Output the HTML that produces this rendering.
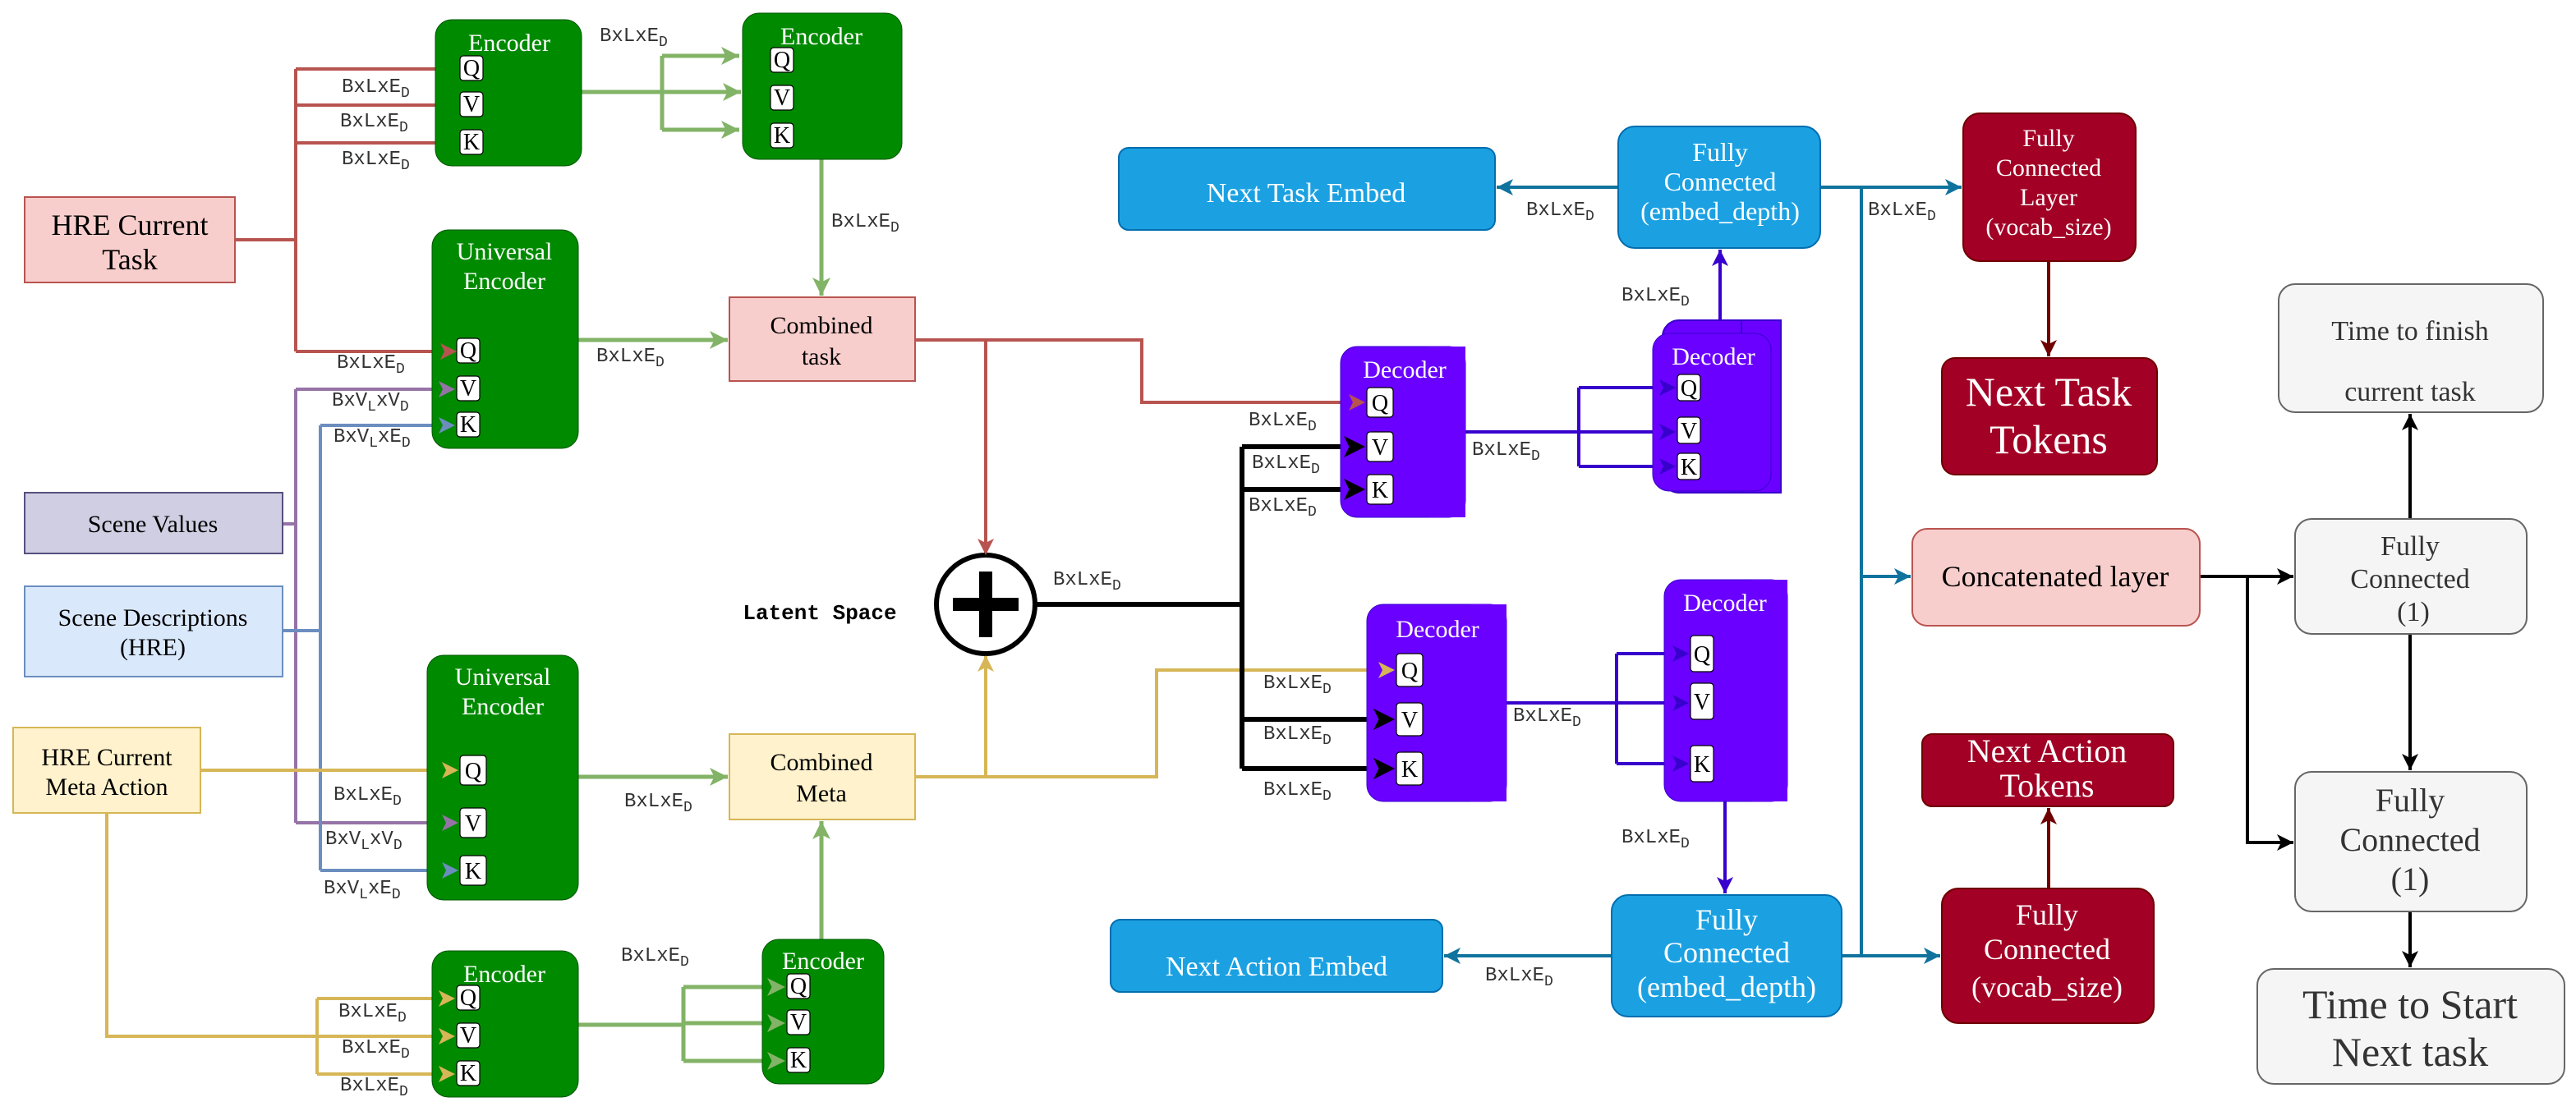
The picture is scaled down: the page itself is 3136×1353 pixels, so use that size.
<!DOCTYPE html>
<html><head><meta charset="utf-8"><style>
html,body{margin:0;padding:0;background:#fff;}
svg{display:block;}
.s text{font-family:"Liberation Serif","DejaVu Serif",serif;}
.m{font-family:"Liberation Mono","DejaVu Sans Mono",monospace;font-size:12px;fill:#333;}
.w{fill:#fff;}
.qb{fill:#fff;stroke:#000;stroke-width:0.6;}
.ql{font-family:"Liberation Serif","DejaVu Serif",serif;font-size:14px;fill:#000;text-anchor:middle;}
</style></head><body>
<svg id="sv" width="3136" height="1353" viewBox="0 0 1568 676.5" xmlns="http://www.w3.org/2000/svg">

<g fill="none" stroke-width="2" id="conn">
<path d="M143,146 H180 M180,42 V214 M180,42 H265 M180,64 H265 M180,87 H265" stroke="#b85450"/>
<path class="ar" d="M180,214 H278" stroke="#b85450"/>
<path class="ar" d="M557,207 H600 V338" stroke="#b85450"/>
<path class="ar" d="M600,207 H695 V245 H831" stroke="#b85450"/>
<g stroke="#82b366" stroke-width="2.5">
<path d="M354,56 H403 M403,34 V79"/>
<path class="ar" d="M403,34 H450"/>
<path class="ar" d="M403,56 H451"/>
<path class="ar" d="M403,79 H450"/>
<path class="ar" d="M500,97 V180"/>
<path class="ar" d="M352,207 H443"/>
<path class="ar" d="M352,473 H443"/>
<path d="M352,624 H416 M416,601 V646"/>
<path class="ar" d="M416,601 H478"/>
<path class="ar" d="M416,623 H478"/>
<path class="ar" d="M416,646 H478"/>
<path class="ar" d="M500,572 V500"/>
</g>
<path d="M172,319 H180 M180,237 V501" stroke="#9673a6"/>
<path class="ar" d="M180,237 H277" stroke="#9673a6"/>
<path class="ar" d="M180,501 H279" stroke="#9673a6"/>
<path d="M172,384 H195 M195,259 V530" stroke="#6c8ebf"/>
<path class="ar" d="M195,259 H277" stroke="#6c8ebf"/>
<path class="ar" d="M195,530 H279" stroke="#6c8ebf"/>
<path class="ar" d="M122,469 H279" stroke="#d6b656"/>
<path d="M65,495 V631 H193 M193,608 V654" stroke="#d6b656"/>
<path class="ar" d="M193,608 H277" stroke="#d6b656"/>
<path class="ar" d="M193,631 H277" stroke="#d6b656"/>
<path class="ar" d="M193,654 H277" stroke="#d6b656"/>
<path class="ar" d="M557,473 H600 V399" stroke="#d6b656"/>
<path class="ar" d="M600,473 H704 V408 H849" stroke="#d6b656"/>
<g stroke="#000" stroke-width="3">
<path d="M630,368 H756 M756,272 V468"/>
<path class="ar" d="M756,272 H831"/>
<path class="ar" d="M756,298 H831"/>
<path class="ar" d="M756,438 H849"/>
<path class="ar" d="M756,468 H849"/>
</g>
<g stroke="#3700cc">
<path class="ar" d="M892,263 H1020"/>
<path d="M961,236 V284"/>
<path class="ar" d="M961,236 H1020"/>
<path class="ar" d="M961,284 H1020"/>
<path class="ar" d="M1047,195 V152"/>
<path class="ar" d="M917,428 H1028"/>
<path d="M984,398 V465"/>
<path class="ar" d="M984,398 H1028"/>
<path class="ar" d="M984,465 H1028"/>
<path class="ar" d="M1050,488 V544"/>
</g>
<g stroke="#10739e">
<path class="ar" d="M985,114 H911"/>
<path class="ar" d="M1108,114 H1194"/>
<path d="M1133,114 V582"/>
<path class="ar" d="M1133,351 H1163"/>
<path class="ar" d="M1121,582 H1181"/>
<path class="ar" d="M981,582 H879"/>
</g>
<path class="ar" d="M1247,159 V217" stroke="#6f0000"/>
<path class="ar" d="M1247,541 V492" stroke="#6f0000"/>
<g stroke="#000">
<path class="ar" d="M1339,351 H1396"/>
<path class="ar" d="M1368,351 V513 H1396"/>
<path class="ar" d="M1467,316 V252"/>
<path class="ar" d="M1467,386 V469"/>
<path class="ar" d="M1467,555 V589"/>
</g>
</g>

<g class="s">
<rect x="15" y="120" width="128" height="52" fill="#f8cecc" stroke="#b85450"/>
<text x="79" y="143" font-size="18" text-anchor="middle">HRE Current</text>
<text x="79" y="164" font-size="18" text-anchor="middle">Task</text>
<rect x="15" y="300" width="157" height="37" fill="#d0cee2" stroke="#56517e"/>
<text x="93" y="324" font-size="15" text-anchor="middle">Scene Values</text>
<rect x="15" y="357" width="157" height="55" fill="#dae8fc" stroke="#6c8ebf"/>
<text x="93" y="381" font-size="15" text-anchor="middle">Scene Descriptions</text>
<text x="93" y="399" font-size="15" text-anchor="middle">(HRE)</text>
<rect x="8" y="443" width="114" height="52" fill="#fff2cc" stroke="#d6b656"/>
<text x="65" y="466" font-size="15" text-anchor="middle">HRE Current</text>
<text x="65" y="484" font-size="15" text-anchor="middle">Meta Action</text>

<rect x="265" y="12" width="89" height="89" rx="10" fill="#008a00" stroke="#005700" stroke-width="0.5"/>
<text x="310" y="31" font-size="15" class="w" text-anchor="middle">Encoder</text>
<rect x="452" y="8" width="97" height="89" rx="10" fill="#008a00" stroke="#005700" stroke-width="0.5"/>
<text x="500" y="27" font-size="15" class="w" text-anchor="middle">Encoder</text>
<rect x="263" y="140" width="89" height="133" rx="10" fill="#008a00" stroke="#005700" stroke-width="0.5"/>
<text x="307" y="158" font-size="15" class="w" text-anchor="middle">Universal</text>
<text x="307" y="176" font-size="15" class="w" text-anchor="middle">Encoder</text>
<rect x="260" y="399" width="92" height="149" rx="10" fill="#008a00" stroke="#005700" stroke-width="0.5"/>
<text x="306" y="417" font-size="15" class="w" text-anchor="middle">Universal</text>
<text x="306" y="435" font-size="15" class="w" text-anchor="middle">Encoder</text>
<rect x="263" y="579" width="89" height="89" rx="10" fill="#008a00" stroke="#005700" stroke-width="0.5"/>
<text x="307" y="598" font-size="15" class="w" text-anchor="middle">Encoder</text>
<rect x="464" y="572" width="74" height="88" rx="10" fill="#008a00" stroke="#005700" stroke-width="0.5"/>
<text x="501" y="590" font-size="15" class="w" text-anchor="middle">Encoder</text>

<rect x="444" y="181" width="113" height="51" fill="#f8cecc" stroke="#b85450"/>
<text x="500" y="203" font-size="15" text-anchor="middle">Combined</text>
<text x="500" y="222" font-size="15" text-anchor="middle">task</text>
<rect x="444" y="447" width="113" height="52" fill="#fff2cc" stroke="#d6b656"/>
<text x="500" y="469" font-size="15" text-anchor="middle">Combined</text>
<text x="500" y="488" font-size="15" text-anchor="middle">Meta</text>

<circle cx="600" cy="368" r="30" fill="#fff" stroke="#000" stroke-width="3"/>
<path d="M600,348 V388 M580,368 H620" stroke="#000" stroke-width="8"/>

<rect x="816" y="211" width="76" height="104" rx="10" fill="#6a00ff" stroke="#3700cc" stroke-width="0.5"/>
<rect x="870" y="211" width="22" height="104" fill="#6a00ff"/>
<text x="855" y="230" font-size="15" class="w" text-anchor="middle">Decoder</text>
<rect x="1012" y="195" width="72" height="105" rx="10" fill="#6a00ff" stroke="#3700cc"/>
<rect x="1060" y="195" width="24" height="105" fill="#6a00ff" stroke="#3700cc"/>
<rect x="1006" y="203" width="72" height="96" rx="10" fill="#6a00ff" stroke="#3700cc" stroke-width="0.5"/>
<text x="1043" y="222" font-size="15" class="w" text-anchor="middle">Decoder</text>
<rect x="832" y="368" width="85" height="120" rx="10" fill="#6a00ff" stroke="#3700cc" stroke-width="0.5"/>
<rect x="895" y="368" width="22" height="120" fill="#6a00ff"/>
<text x="875" y="388" font-size="15" class="w" text-anchor="middle">Decoder</text>
<rect x="1013" y="353" width="75" height="135" rx="10" fill="#6a00ff" stroke="#3700cc" stroke-width="0.5"/>
<rect x="1066" y="353" width="22" height="135" fill="#6a00ff"/>
<text x="1050" y="372" font-size="15" class="w" text-anchor="middle">Decoder</text>

<rect x="681" y="90" width="229" height="50" rx="6" fill="#1ba1e2" stroke="#006eaf"/>
<text x="795" y="123" font-size="17" class="w" text-anchor="middle">Next Task Embed</text>
<rect x="985" y="77" width="123" height="74" rx="10" fill="#1ba1e2" stroke="#006eaf"/>
<text x="1047" y="98" font-size="16" class="w" text-anchor="middle">Fully</text>
<text x="1047" y="116" font-size="16" class="w" text-anchor="middle">Connected</text>
<text x="1047" y="134" font-size="16" class="w" text-anchor="middle">(embed_depth)</text>
<rect x="1195" y="69" width="105" height="90" rx="10" fill="#a20025" stroke="#6f0000"/>
<text x="1247" y="89" font-size="15" class="w" text-anchor="middle">Fully</text>
<text x="1247" y="107" font-size="15" class="w" text-anchor="middle">Connected</text>
<text x="1247" y="125" font-size="15" class="w" text-anchor="middle">Layer</text>
<text x="1247" y="143" font-size="15" class="w" text-anchor="middle">(vocab_size)</text>
<rect x="1182" y="218" width="131" height="71" rx="8" fill="#a20025" stroke="#6f0000"/>
<text x="1247" y="247" font-size="25" class="w" text-anchor="middle">Next Task</text>
<text x="1247" y="276" font-size="25" class="w" text-anchor="middle">Tokens</text>
<rect x="1164" y="322" width="175" height="59" rx="9" fill="#f8cecc" stroke="#b85450"/>
<text x="1251" y="357" font-size="18" text-anchor="middle">Concatenated layer</text>
<rect x="1387" y="173" width="161" height="78" rx="10" fill="#f5f5f5" stroke="#666"/>
<text x="1467" y="207" font-size="17" fill="#333" text-anchor="middle">Time to finish</text>
<text x="1467" y="244" font-size="17" fill="#333" text-anchor="middle">current task</text>
<rect x="1397" y="316" width="141" height="70" rx="10" fill="#f5f5f5" stroke="#666"/>
<text x="1467" y="338" font-size="17" fill="#333" text-anchor="middle">Fully</text>
<text x="1467" y="358" font-size="17" fill="#333" text-anchor="middle">Connected</text>
<text x="1469" y="378" font-size="17" fill="#333" text-anchor="middle">(1)</text>
<rect x="1397" y="470" width="141" height="85" rx="10" fill="#f5f5f5" stroke="#666"/>
<text x="1467" y="494" font-size="20" fill="#333" text-anchor="middle">Fully</text>
<text x="1467" y="518" font-size="20" fill="#333" text-anchor="middle">Connected</text>
<text x="1467" y="542" font-size="20" fill="#333" text-anchor="middle">(1)</text>
<rect x="1374" y="590" width="187" height="70" rx="10" fill="#f5f5f5" stroke="#666"/>
<text x="1467" y="620" font-size="25" fill="#333" text-anchor="middle">Time to Start</text>
<text x="1467" y="649" font-size="25" fill="#333" text-anchor="middle">Next task</text>
<rect x="1170" y="447" width="153" height="44" rx="6" fill="#a20025" stroke="#6f0000"/>
<text x="1246" y="464" font-size="20" class="w" text-anchor="middle">Next Action</text>
<text x="1246" y="485" font-size="20" class="w" text-anchor="middle">Tokens</text>
<rect x="1182" y="541" width="129" height="82" rx="10" fill="#a20025" stroke="#6f0000"/>
<text x="1246" y="563" font-size="18" class="w" text-anchor="middle">Fully</text>
<text x="1246" y="584" font-size="18" class="w" text-anchor="middle">Connected</text>
<text x="1246" y="607" font-size="18" class="w" text-anchor="middle">(vocab_size)</text>
<rect x="981" y="545" width="140" height="74" rx="10" fill="#1ba1e2" stroke="#006eaf"/>
<text x="1051" y="566" font-size="18" class="w" text-anchor="middle">Fully</text>
<text x="1051" y="586" font-size="18" class="w" text-anchor="middle">Connected</text>
<text x="1051" y="607" font-size="18" class="w" text-anchor="middle">(embed_depth)</text>
<rect x="676" y="560" width="202" height="44" rx="6" fill="#1ba1e2" stroke="#006eaf"/>
<text x="777" y="594" font-size="17" class="w" text-anchor="middle">Next Action Embed</text>
</g>
<text x="499" y="377" font-family="Liberation Mono,monospace" font-weight="bold" font-size="13" text-anchor="middle">Latent Space</text>

<g>
<rect class="qb" x="280" y="34" width="14" height="15" rx="2"/><text class="ql" x="287" y="46">Q</text>
<rect class="qb" x="280" y="56" width="14" height="15" rx="2"/><text class="ql" x="287" y="68">V</text>
<rect class="qb" x="280" y="79" width="14" height="15" rx="2"/><text class="ql" x="287" y="91">K</text>
<rect class="qb" x="469" y="29" width="14" height="15" rx="2"/><text class="ql" x="476" y="41">Q</text>
<rect class="qb" x="469" y="52" width="14" height="15" rx="2"/><text class="ql" x="476" y="64">V</text>
<rect class="qb" x="469" y="75" width="14" height="15" rx="2"/><text class="ql" x="476" y="87">K</text>
<rect class="qb" x="278" y="206" width="14" height="15" rx="2"/><text class="ql" x="285" y="218">Q</text>
<rect class="qb" x="278" y="229" width="14" height="15" rx="2"/><text class="ql" x="285" y="241">V</text>
<rect class="qb" x="278" y="251" width="14" height="15" rx="2"/><text class="ql" x="285" y="263">K</text>
<rect class="qb" x="280" y="460" width="16" height="18" rx="2"/><text class="ql" x="288" y="474">Q</text>
<rect class="qb" x="280" y="492" width="16" height="18" rx="2"/><text class="ql" x="288" y="506">V</text>
<rect class="qb" x="280" y="521" width="16" height="18" rx="2"/><text class="ql" x="288" y="535">K</text>
<rect class="qb" x="278" y="600" width="14" height="15" rx="2"/><text class="ql" x="285" y="612">Q</text>
<rect class="qb" x="278" y="623" width="14" height="15" rx="2"/><text class="ql" x="285" y="635">V</text>
<rect class="qb" x="278" y="646" width="14" height="15" rx="2"/><text class="ql" x="285" y="658">K</text>
<rect class="qb" x="479" y="593" width="14" height="15" rx="2"/><text class="ql" x="486" y="605">Q</text>
<rect class="qb" x="479" y="615" width="14" height="15" rx="2"/><text class="ql" x="486" y="627">V</text>
<rect class="qb" x="479" y="638" width="14" height="15" rx="2"/><text class="ql" x="486" y="650">K</text>
<rect class="qb" x="832" y="236" width="16" height="18" rx="2"/><text class="ql" x="840" y="250">Q</text>
<rect class="qb" x="832" y="263" width="16" height="18" rx="2"/><text class="ql" x="840" y="277">V</text>
<rect class="qb" x="832" y="289" width="16" height="18" rx="2"/><text class="ql" x="840" y="303">K</text>
<rect class="qb" x="1021" y="228" width="14" height="16" rx="2"/><text class="ql" x="1028" y="241">Q</text>
<rect class="qb" x="1021" y="254" width="14" height="16" rx="2"/><text class="ql" x="1028" y="267">V</text>
<rect class="qb" x="1021" y="276" width="14" height="16" rx="2"/><text class="ql" x="1028" y="289">K</text>
<rect class="qb" x="850" y="398" width="16" height="20" rx="2"/><text class="ql" x="858" y="413">Q</text>
<rect class="qb" x="850" y="428" width="16" height="20" rx="2"/><text class="ql" x="858" y="443">V</text>
<rect class="qb" x="850" y="458" width="16" height="20" rx="2"/><text class="ql" x="858" y="473">K</text>
<rect class="qb" x="1029" y="387" width="14" height="22" rx="2"/><text class="ql" x="1036" y="403">Q</text>
<rect class="qb" x="1029" y="416" width="14" height="22" rx="2"/><text class="ql" x="1036" y="432">V</text>
<rect class="qb" x="1029" y="454" width="14" height="22" rx="2"/><text class="ql" x="1036" y="470">K</text>
</g>

<g id="heads"></g>

<g class="m">
<text x="365" y="25">BxLxE<tspan font-size="9" dy="3">D</tspan></text>
<text x="208" y="56">BxLxE<tspan font-size="9" dy="3">D</tspan></text>
<text x="207" y="77">BxLxE<tspan font-size="9" dy="3">D</tspan></text>
<text x="208" y="100">BxLxE<tspan font-size="9" dy="3">D</tspan></text>
<text x="506" y="138">BxLxE<tspan font-size="9" dy="3">D</tspan></text>
<text x="205" y="224">BxLxE<tspan font-size="9" dy="3">D</tspan></text>
<text x="363" y="220">BxLxE<tspan font-size="9" dy="3">D</tspan></text>
<text x="202" y="247">BxV<tspan font-size="9" dy="3">L</tspan><tspan dy="-3">xV</tspan><tspan font-size="9" dy="3">D</tspan></text>
<text x="203" y="269">BxV<tspan font-size="9" dy="3">L</tspan><tspan dy="-3">xE</tspan><tspan font-size="9" dy="3">D</tspan></text>
<text x="641" y="356">BxLxE<tspan font-size="9" dy="3">D</tspan></text>
<text x="760" y="259">BxLxE<tspan font-size="9" dy="3">D</tspan></text>
<text x="762" y="285">BxLxE<tspan font-size="9" dy="3">D</tspan></text>
<text x="760" y="311">BxLxE<tspan font-size="9" dy="3">D</tspan></text>
<text x="896" y="277">BxLxE<tspan font-size="9" dy="3">D</tspan></text>
<text x="987" y="183">BxLxE<tspan font-size="9" dy="3">D</tspan></text>
<text x="929" y="131">BxLxE<tspan font-size="9" dy="3">D</tspan></text>
<text x="1137" y="131">BxLxE<tspan font-size="9" dy="3">D</tspan></text>
<text x="769" y="419">BxLxE<tspan font-size="9" dy="3">D</tspan></text>
<text x="769" y="450">BxLxE<tspan font-size="9" dy="3">D</tspan></text>
<text x="769" y="484">BxLxE<tspan font-size="9" dy="3">D</tspan></text>
<text x="921" y="439">BxLxE<tspan font-size="9" dy="3">D</tspan></text>
<text x="987" y="513">BxLxE<tspan font-size="9" dy="3">D</tspan></text>
<text x="904" y="597">BxLxE<tspan font-size="9" dy="3">D</tspan></text>
<text x="203" y="487">BxLxE<tspan font-size="9" dy="3">D</tspan></text>
<text x="198" y="514">BxV<tspan font-size="9" dy="3">L</tspan><tspan dy="-3">xV</tspan><tspan font-size="9" dy="3">D</tspan></text>
<text x="197" y="544">BxV<tspan font-size="9" dy="3">L</tspan><tspan dy="-3">xE</tspan><tspan font-size="9" dy="3">D</tspan></text>
<text x="380" y="491">BxLxE<tspan font-size="9" dy="3">D</tspan></text>
<text x="378" y="585">BxLxE<tspan font-size="9" dy="3">D</tspan></text>
<text x="206" y="619">BxLxE<tspan font-size="9" dy="3">D</tspan></text>
<text x="208" y="641">BxLxE<tspan font-size="9" dy="3">D</tspan></text>
<text x="207" y="664">BxLxE<tspan font-size="9" dy="3">D</tspan></text>
</g>
</svg>
<script>
(function(){
var NS="http://www.w3.org/2000/svg";
var heads=document.getElementById("heads");
var ps=document.querySelectorAll("path.ar");
for(var i=0;i<ps.length;i++){
 var p=ps[i];
 var d=p.getAttribute("d").trim();
 var toks=d.match(/[MHVL]|-?[\d.]+/g);
 var x=0,y=0,px=0,py=0,cmd="";
 for(var j=0;j<toks.length;j++){
  var t=toks[j];
  if(/[MHVL]/.test(t)){cmd=t;continue;}
  if(cmd=="M"||cmd=="L"){px=x;py=y;x=+t;y=+toks[++j];}
  else if(cmd=="H"){px=x;py=y;x=+t;}
  else if(cmd=="V"){px=x;py=y;y=+t;}
 }
 var col=p.getAttribute("stroke");
 var g=p.parentNode;
 while(!col&&g&&g.getAttribute){col=g.getAttribute("stroke");g=g.parentNode;}
 var sw=parseFloat(p.getAttribute("stroke-width")||(p.parentNode.getAttribute("stroke-width"))||2);
 var L=sw>=3?13:(sw>=2.5?11:10), W=sw>=3?6.5:(sw>=2.5?5.5:5);
 var dx=x-px,dy=y-py,len=Math.sqrt(dx*dx+dy*dy)||1;dx/=len;dy/=len;
 var nx=-dy,ny=dx;
 var bx=x-dx*L,by=y-dy*L, ix=x-dx*L*0.75, iy=y-dy*L*0.75;
 var poly=document.createElementNS(NS,"polygon");
 poly.setAttribute("points",x+","+y+" "+(bx+nx*W)+","+(by+ny*W)+" "+ix+","+iy+" "+(bx-nx*W)+","+(by-ny*W));
 poly.setAttribute("fill",col||"#000");
 heads.appendChild(poly);
}
})();
</script>
</body></html>
